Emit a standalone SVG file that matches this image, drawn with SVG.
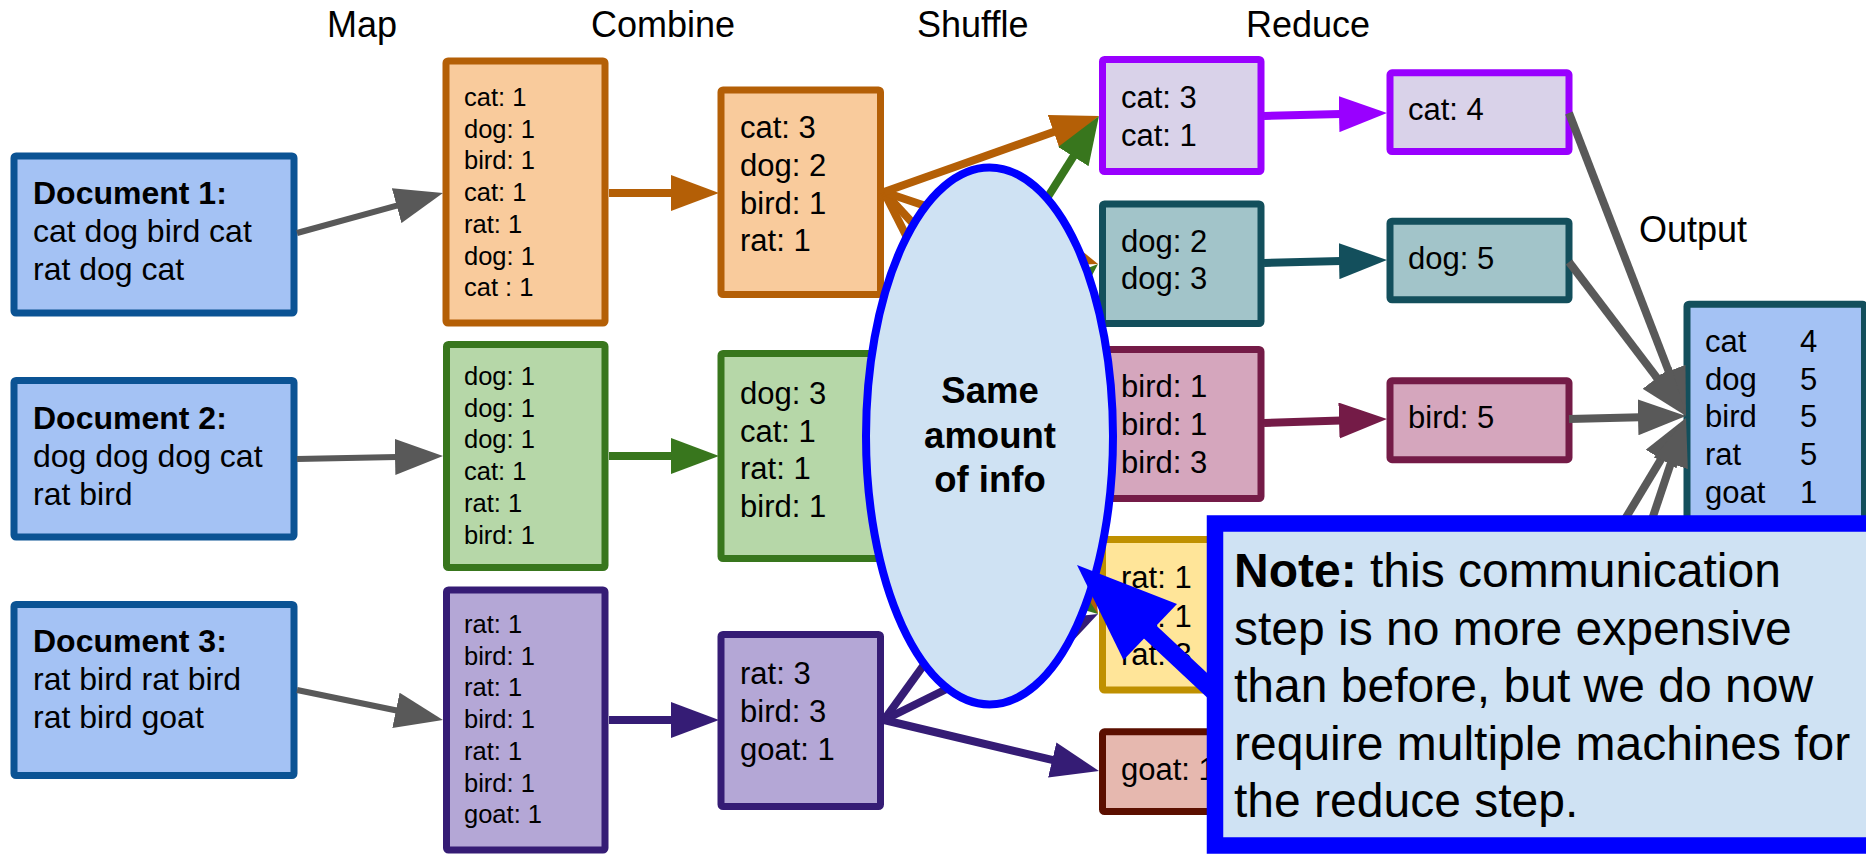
<svg xmlns="http://www.w3.org/2000/svg" width="1866" height="854" viewBox="0 0 1866 854">
<style>
text{font-family:"Liberation Sans",Arial,sans-serif;fill:#000}
.t{font-size:31px}
.d{font-size:32px}
.s{font-size:25.5px}
.h{font-size:36px}
.b{font-weight:bold}
.box{stroke-width:7}
.doc{fill:#a4c2f4;stroke:#0b5394}
.or{fill:#f9cb9c;stroke:#b45f06}
.gr{fill:#b6d7a8;stroke:#38761d}
.pu{fill:#b4a7d6;stroke:#351c75}
.cat{fill:#d9d2e9;stroke:#9900ff}
.dog{fill:#a2c4c9;stroke:#134f5c}
.bird{fill:#d5a6bd;stroke:#741b47}
.rat{fill:#ffe599;stroke:#bf9000}
.goat{fill:#e6b8af;stroke:#5b0f00}
.out{fill:#a4c2f4;stroke:#134f5c}
line{fill:none}
.cg{stroke:#595959;stroke-width:6;marker-end:url(#mGray)}
.cg8{stroke:#595959;stroke-width:8;marker-end:url(#mGray)}
.co{stroke:#b45f06;stroke-width:8;marker-end:url(#mOr)}
.cgr{stroke:#38761d;stroke-width:8;marker-end:url(#mGr)}
.cpu{stroke:#351c75;stroke-width:8;marker-end:url(#mPu)}
.cvi{stroke:#9900ff;stroke-width:8;marker-end:url(#mVi)}
.cte{stroke:#134f5c;stroke-width:8;marker-end:url(#mTe)}
.cma{stroke:#741b47;stroke-width:8;marker-end:url(#mMa)}
</style>
<defs>
<marker id="mGray" markerUnits="userSpaceOnUse" markerWidth="48" markerHeight="36" viewBox="0 0 48 36" refX="2" refY="18" orient="auto"><path d="M0,0 L48,18 L0,36 z" fill="#595959"/></marker>
<marker id="mOr" markerUnits="userSpaceOnUse" markerWidth="48" markerHeight="36" viewBox="0 0 48 36" refX="2" refY="18" orient="auto"><path d="M0,0 L48,18 L0,36 z" fill="#b45f06"/></marker>
<marker id="mGr" markerUnits="userSpaceOnUse" markerWidth="48" markerHeight="36" viewBox="0 0 48 36" refX="2" refY="18" orient="auto"><path d="M0,0 L48,18 L0,36 z" fill="#38761d"/></marker>
<marker id="mPu" markerUnits="userSpaceOnUse" markerWidth="48" markerHeight="36" viewBox="0 0 48 36" refX="2" refY="18" orient="auto"><path d="M0,0 L48,18 L0,36 z" fill="#351c75"/></marker>
<marker id="mVi" markerUnits="userSpaceOnUse" markerWidth="48" markerHeight="36" viewBox="0 0 48 36" refX="2" refY="18" orient="auto"><path d="M0,0 L48,18 L0,36 z" fill="#9900ff"/></marker>
<marker id="mTe" markerUnits="userSpaceOnUse" markerWidth="48" markerHeight="36" viewBox="0 0 48 36" refX="2" refY="18" orient="auto"><path d="M0,0 L48,18 L0,36 z" fill="#134f5c"/></marker>
<marker id="mMa" markerUnits="userSpaceOnUse" markerWidth="48" markerHeight="36" viewBox="0 0 48 36" refX="2" refY="18" orient="auto"><path d="M0,0 L48,18 L0,36 z" fill="#741b47"/></marker>
</defs>
<rect width="1866" height="854" fill="#ffffff"/>

<g id="titles" class="h">
<text x="327" y="37" class="h">Map</text>
<text x="591" y="37" class="h">Combine</text>
<text x="917" y="37" class="h">Shuffle</text>
<text x="1246" y="37" class="h">Reduce</text>
<text x="1639" y="242" class="h">Output</text>
</g>

<g id="doc1"><rect class="box doc" x="14" y="156" width="280" height="157" rx="2"/>
<text class="d" x="33"><tspan class="b" y="204">Document 1:</tspan><tspan x="33" y="242">cat dog bird cat</tspan><tspan x="33" y="280">rat dog cat</tspan></text></g>
<g id="doc2"><rect class="box doc" x="14" y="380.5" width="280" height="156.5" rx="2"/>
<text class="d" x="33"><tspan class="b" y="429">Document 2:</tspan><tspan x="33" y="467">dog dog dog cat</tspan><tspan x="33" y="505">rat bird</tspan></text></g>
<g id="doc3"><rect class="box doc" x="14" y="604.5" width="280" height="171" rx="2"/>
<text class="d" x="33"><tspan class="b" y="652">Document 3:</tspan><tspan x="33" y="690">rat bird rat bird</tspan><tspan x="33" y="728">rat bird goat</tspan></text></g>

<g id="map1"><rect class="box or" x="446" y="61" width="159" height="262" rx="2"/>
<text class="s"><tspan x="464" y="106">cat: 1</tspan><tspan x="464" y="137.7">dog: 1</tspan><tspan x="464" y="169.4">bird: 1</tspan><tspan x="464" y="201.1">cat: 1</tspan><tspan x="464" y="232.8">rat: 1</tspan><tspan x="464" y="264.5">dog: 1</tspan><tspan x="464" y="296.2">cat : 1</tspan></text></g>
<g id="map2"><rect class="box gr" x="446.5" y="344.5" width="158.5" height="223" rx="2"/>
<text class="s"><tspan x="464" y="385">dog: 1</tspan><tspan x="464" y="416.7">dog: 1</tspan><tspan x="464" y="448.4">dog: 1</tspan><tspan x="464" y="480.1">cat: 1</tspan><tspan x="464" y="511.8">rat: 1</tspan><tspan x="464" y="543.5">bird: 1</tspan></text></g>
<g id="map3"><rect class="box pu" x="446.5" y="590" width="158.5" height="260" rx="2"/>
<text class="s"><tspan x="464" y="633">rat: 1</tspan><tspan x="464" y="664.7">bird: 1</tspan><tspan x="464" y="696.4">rat: 1</tspan><tspan x="464" y="728.1">bird: 1</tspan><tspan x="464" y="759.8">rat: 1</tspan><tspan x="464" y="791.5">bird: 1</tspan><tspan x="464" y="823.2">goat: 1</tspan></text></g>

<g id="combine1"><rect class="box or" x="721" y="90" width="159.5" height="204.5" rx="2"/>
<text class="t"><tspan x="740" y="138.3">cat: 3</tspan><tspan x="740" y="176">dog: 2</tspan><tspan x="740" y="213.7">bird: 1</tspan><tspan x="740" y="251.4">rat: 1</tspan></text></g>
<g id="combine2"><rect class="box gr" x="721" y="353.5" width="159.5" height="205" rx="2"/>
<text class="t"><tspan x="740" y="404">dog: 3</tspan><tspan x="740" y="441.7">cat: 1</tspan><tspan x="740" y="479.4">rat: 1</tspan><tspan x="740" y="517.1">bird: 1</tspan></text></g>
<g id="combine3"><rect class="box pu" x="721" y="634.5" width="159.5" height="172" rx="2"/>
<text class="t"><tspan x="740" y="683.7">rat: 3</tspan><tspan x="740" y="722">bird: 3</tspan><tspan x="740" y="760.3">goat: 1</tspan></text></g>

<g id="shuffle-cat"><rect class="box cat" x="1102.5" y="59.5" width="158.5" height="112" rx="2"/>
<text class="t"><tspan x="1121" y="108.3">cat: 3</tspan><tspan x="1121" y="146">cat: 1</tspan></text></g>
<g id="shuffle-dog"><rect class="box dog" x="1102.5" y="204" width="158.5" height="119.5" rx="2"/>
<text class="t"><tspan x="1121" y="251.7">dog: 2</tspan><tspan x="1121" y="289.4">dog: 3</tspan></text></g>
<g id="shuffle-bird"><rect class="box bird" x="1102.5" y="349.5" width="158.5" height="149" rx="2"/>
<text class="t"><tspan x="1121" y="397.3">bird: 1</tspan><tspan x="1121" y="435">bird: 1</tspan><tspan x="1121" y="472.7">bird: 3</tspan></text></g>
<g id="shuffle-rat"><rect class="box rat" x="1102.5" y="539.5" width="158.5" height="150.5" rx="2"/>
<text class="t"><tspan x="1121" y="588.3">rat: 1</tspan><tspan x="1121" y="626.5">rat: 1</tspan><tspan x="1121" y="664.7">rat: 3</tspan></text></g>
<g id="shuffle-goat"><rect class="box goat" x="1102.5" y="731.8" width="158.5" height="79.7" rx="2"/>
<text class="t"><tspan x="1121" y="780">goat: 1</tspan></text></g>

<g id="reduce-cat"><rect class="box cat" x="1390" y="72.8" width="179" height="78.7" rx="2"/>
<text class="t" x="1408" y="120">cat: 4</text></g>
<g id="reduce-dog"><rect class="box dog" x="1390" y="221.2" width="179" height="78.6" rx="2"/>
<text class="t" x="1408" y="269.3">dog: 5</text></g>
<g id="reduce-bird"><rect class="box bird" x="1390" y="380.8" width="179" height="78.9" rx="2"/>
<text class="t" x="1408" y="428.3">bird: 5</text></g>

<g id="output"><rect class="box out" x="1687" y="304.2" width="177.5" height="300" rx="2"/>
<text class="t"><tspan x="1705" y="352">cat</tspan><tspan x="1705" y="389.7">dog</tspan><tspan x="1705" y="427.4">bird</tspan><tspan x="1705" y="465.1">rat</tspan><tspan x="1705" y="502.8">goat</tspan></text>
<text class="t"><tspan x="1800" y="352">4</tspan><tspan x="1800" y="389.7">5</tspan><tspan x="1800" y="427.4">5</tspan><tspan x="1800" y="465.1">5</tspan><tspan x="1800" y="502.8">1</tspan></text></g>

<g id="connectors">
<line class="cg" x1="297" y1="233" x2="398.6" y2="205.2"/>
<line class="cg" x1="297" y1="459" x2="397" y2="456.9"/>
<line class="cg" x1="297" y1="690" x2="397.9" y2="710.7"/>
<line class="co" x1="609" y1="193" x2="673" y2="193"/>
<line class="cgr" x1="609" y1="456" x2="673" y2="456"/>
<line class="cpu" x1="609" y1="720" x2="673" y2="720"/>
<line class="co" x1="884" y1="192" x2="1066.8" y2="390.2"/>
<line class="co" x1="884" y1="192" x2="1077.2" y2="573"/>
<line class="co" x1="884" y1="192" x2="1054.4" y2="249.3"/>
<line class="co" x1="884" y1="192" x2="1055.6" y2="131.3"/>
<line class="cgr" x1="884" y1="456" x2="1052.5" y2="430.8"/>
<line class="cgr" x1="884" y1="456" x2="1061" y2="586.7"/>
<line class="cgr" x1="884" y1="456" x2="1063.8" y2="294.7"/>
<line class="cgr" x1="884" y1="456" x2="1074.4" y2="154.9"/>
<line class="cpu" x1="884" y1="720" x2="1071.1" y2="461.3"/>
<line class="cpu" x1="884" y1="720" x2="1056.8" y2="634.4"/>
<line class="cpu" x1="884" y1="720" x2="1054.2" y2="760.4"/>
<line class="cvi" x1="1264" y1="116" x2="1341" y2="114.1"/>
<line class="cte" x1="1264" y1="263" x2="1341" y2="261.1"/>
<line class="cma" x1="1264" y1="423" x2="1341" y2="420.5"/>
<line class="cg8" x1="1569" y1="113" x2="1669.4" y2="373.1"/>
<line class="cg8" x1="1569" y1="262" x2="1658.2" y2="379.4"/>
<line class="cg8" x1="1569" y1="419" x2="1640" y2="417.2"/>
<line class="cg8" x1="1572" y1="607" x2="1662.2" y2="457.4"/>
<line class="cg8" x1="1572" y1="758" x2="1671.4" y2="461.6"/>
</g>

<g id="same-info">
<ellipse cx="989.5" cy="436" rx="123.5" ry="268.5" fill="#cfe2f3" stroke="#0000ff" stroke-width="8"/>
<text class="b" font-size="36.5" text-anchor="middle"><tspan x="990" y="403">Same</tspan><tspan x="990" y="448">amount</tspan><tspan x="990" y="492">of info</tspan></text>
</g>

<g id="note">
<line x1="1148" y1="630" x2="1225" y2="702" stroke="#0000ff" stroke-width="18"/>
<polygon points="1077,565 1177,604 1123.5,660" fill="#0000ff"/>
<rect x="1215" y="523.5" width="700" height="322" fill="#cfe2f3" stroke="#0000ff" stroke-width="16.5"/>
<text font-size="48"><tspan x="1234" y="587" class="b">Note:</tspan><tspan> this communication</tspan><tspan x="1234" y="644.5">step is no more expensive</tspan><tspan x="1234" y="702">than before, but we do now</tspan><tspan x="1234" y="759.5">require multiple machines for</tspan><tspan x="1234" y="817">the reduce step.</tspan></text>
</g>
</svg>
